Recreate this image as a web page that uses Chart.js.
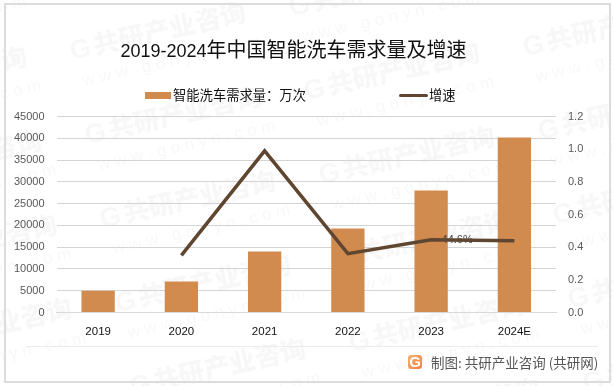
<!DOCTYPE html>
<html>
<head>
    <title>2019-2024年中国智能洗车需求量及增速</title>
    <script src="https://cdn.jsdelivr.net/npm/chart.js"></script>
    <style>
        html, body { margin: 0; padding: 0; background: #fff; }
        body { width: 613px; height: 386px; position: relative; overflow: hidden; font-family: "Noto Sans CJK SC", sans-serif; }
        canvas { position: absolute; left: 0; top: 0; }
        .frame { position: absolute; left: 4px; top: 3px; width: 603px; height: 376px; border: 2px solid #dcdcdc; }
        .title { position: absolute; left: 0; top: 34px; width: 587px; text-align: center; font-size: 20px; line-height: 30px; color: #111; white-space: nowrap; }
        .title span { font-family: "Liberation Sans", sans-serif; font-size: 18px; }
        .legend-item { position: absolute; top: 85px; height: 20px; line-height: 20px; font-size: 13.3px; color: #111; white-space: nowrap; }
        .swatch { position: absolute; top: 6.5px; left: 0; height: 7px; }
        .footer-line { position: absolute; left: 26px; top: 346px; width: 572px; height: 1px; background: #ececec; }
        .logo { position: absolute; left: 408px; top: 355px; width: 14px; height: 14px; line-height: 14px; text-align: center; font: bold 15px/14px "Liberation Sans", sans-serif; color: #fff; background: linear-gradient(135deg, #f6b26b, #ef7f4a); border-radius: 3px; }
        .source { position: absolute; left: 431px; top: 352px; font-size: 13.5px; line-height: 20px; color: #555; white-space: nowrap; }
    </style>
</head>
<body>
    <canvas id="demandChart" width="613" height="386"></canvas>
    <div class="frame"></div>
    <div class="title"><span>2019-2024</span>年中国智能洗车需求量及增速</div>
    <div id="legend"></div>
    <div class="footer-line"></div>
    <div class="logo">G</div>
    <div class="source">制图: 共研产业咨询 (共研网)</div>

    <script>
        const years = ['2019', '2020', '2021', '2022', '2023', '2024E'];
        const demand = [5000, 7100, 14000, 19300, 28000, 40200];
        const growth = [null, 0.35, 0.99, 0.36, 0.446, 0.44];
        const demandName = '智能洗车需求量：万次';
        const growthName = '增速';
        const growthLabel = '44.6%';
        const barColor = '#d28b4e';
        const lineColor = '#5f4630';
        const tickColor = '#595959';

        // faint repeated company mark behind the chart
        const watermark = {
            id: 'watermark',
            beforeDraw(chart) {
                const ctx = chart.ctx;
                ctx.save();
                for (let i = -1; i <= 2; i++) {
                    for (let j = -1; j <= 4; j++) {
                        ctx.save();
                        ctx.translate(72 + i * 234 + j * 15, 60 + i * 40 + j * 84);
                        ctx.rotate(-0.22);
                        ctx.fillStyle = 'rgba(0,0,0,0.03)';
                        ctx.font = '900 27px "Liberation Sans", sans-serif';
                        ctx.fillText('G', 0, 0);
                        ctx.font = '900 26px "Noto Sans CJK SC"';
                        ctx.fillText('共研产业咨询', 24, 0);
                        ctx.fillStyle = 'rgba(0,0,0,0.03)';
                        ctx.font = '17px "Liberation Sans", sans-serif';
                        ctx.fillText('w w w . g o n y n . c o m', 6, 28);
                        ctx.restore();
                    }
                }
                ctx.restore();
            }
        };

        // the single data label, sits under the line like in the original
        const pointLabel = {
            id: 'pointLabel',
            beforeDatasetDraw(chart, args) {
                if (args.index !== 1) return;
                const pt = chart.getDatasetMeta(1).data[4];
                const ctx = chart.ctx;
                ctx.save();
                ctx.fillStyle = '#404040';
                ctx.font = '11px "Liberation Sans", sans-serif';
                ctx.textAlign = 'center';
                ctx.textBaseline = 'middle';
                ctx.fillText(growthLabel, pt.x + 26, pt.y);
                ctx.restore();
            }
        };

        const chart = new Chart(document.getElementById('demandChart').getContext('2d'), {
            type: 'bar',
            data: {
                labels: years,
                datasets: [
                    {
                        label: demandName,
                        data: demand,
                        backgroundColor: barColor,
                        yAxisID: 'y',
                        categoryPercentage: 1,
                        barPercentage: 0.4,
                        order: 2
                    },
                    {
                        type: 'line',
                        label: growthName,
                        data: growth,
                        borderColor: lineColor,
                        borderWidth: 3.5,
                        pointRadius: 0,
                        tension: 0,
                        yAxisID: 'y1',
                        order: 1
                    }
                ]
            },
            options: {
                responsive: false,
                animation: false,
                layout: { padding: { top: 116.5, left: 0, right: 0, bottom: 0 } },
                plugins: {
                    legend: { display: false },
                    title: { display: false },
                    tooltip: { enabled: false }
                },
                scales: {
                    x: {
                        grid: { display: false, drawTicks: false },
                        border: { color: '#d9d9d9' },
                        ticks: { color: '#111', font: { family: 'Liberation Sans', size: 11.5 }, padding: 12, maxRotation: 0 },
                        afterFit(scale) { scale.height = 73.5; }
                    },
                    y: {
                        min: 0,
                        max: 45000,
                        grid: { color: '#d4d4d4', drawTicks: false },
                        border: { display: false },
                        ticks: { stepSize: 5000, color: tickColor, font: { family: 'Liberation Sans', size: 11 }, padding: 12, callback: v => String(v) },
                        afterFit(scale) { scale.width = 56.5; }
                    },
                    y1: {
                        position: 'right',
                        min: 0,
                        max: 1.2,
                        grid: { display: false, drawTicks: false },
                        border: { display: false },
                        ticks: {
                            stepSize: 0.2,
                            color: tickColor,
                            font: { family: 'Liberation Sans', size: 11 },
                            padding: 12,
                            callback: v => v.toFixed(1)
                        },
                        afterFit(scale) { scale.width = 57; }
                    }
                }
            },
            plugins: [watermark, pointLabel]
        });

        // html legend so the two entries can sit as far apart as the original
        const legendSpots = [
            { left: 145, swatch: 26, textGap: 28 },
            { left: 399, swatch: 29, textGap: 30, thin: true }
        ];
        const legendBox = document.getElementById('legend');
        chart.data.datasets.forEach((ds, i) => {
            const spot = legendSpots[i];
            const item = document.createElement('div');
            item.className = 'legend-item';
            item.style.left = spot.left + 'px';
            item.style.paddingLeft = spot.textGap + 'px';
            const swatch = document.createElement('span');
            swatch.className = 'swatch';
            swatch.style.width = spot.swatch + 'px';
            swatch.style.background = ds.backgroundColor || ds.borderColor;
            if (spot.thin) {
                swatch.style.height = '3px';
                swatch.style.top = '8.5px';
                swatch.style.borderRadius = '2px';
                swatch.style.background = ds.borderColor;
            }
            item.appendChild(swatch);
            item.appendChild(document.createTextNode(ds.label));
            legendBox.appendChild(item);
        });
    </script>
</body>
</html>
